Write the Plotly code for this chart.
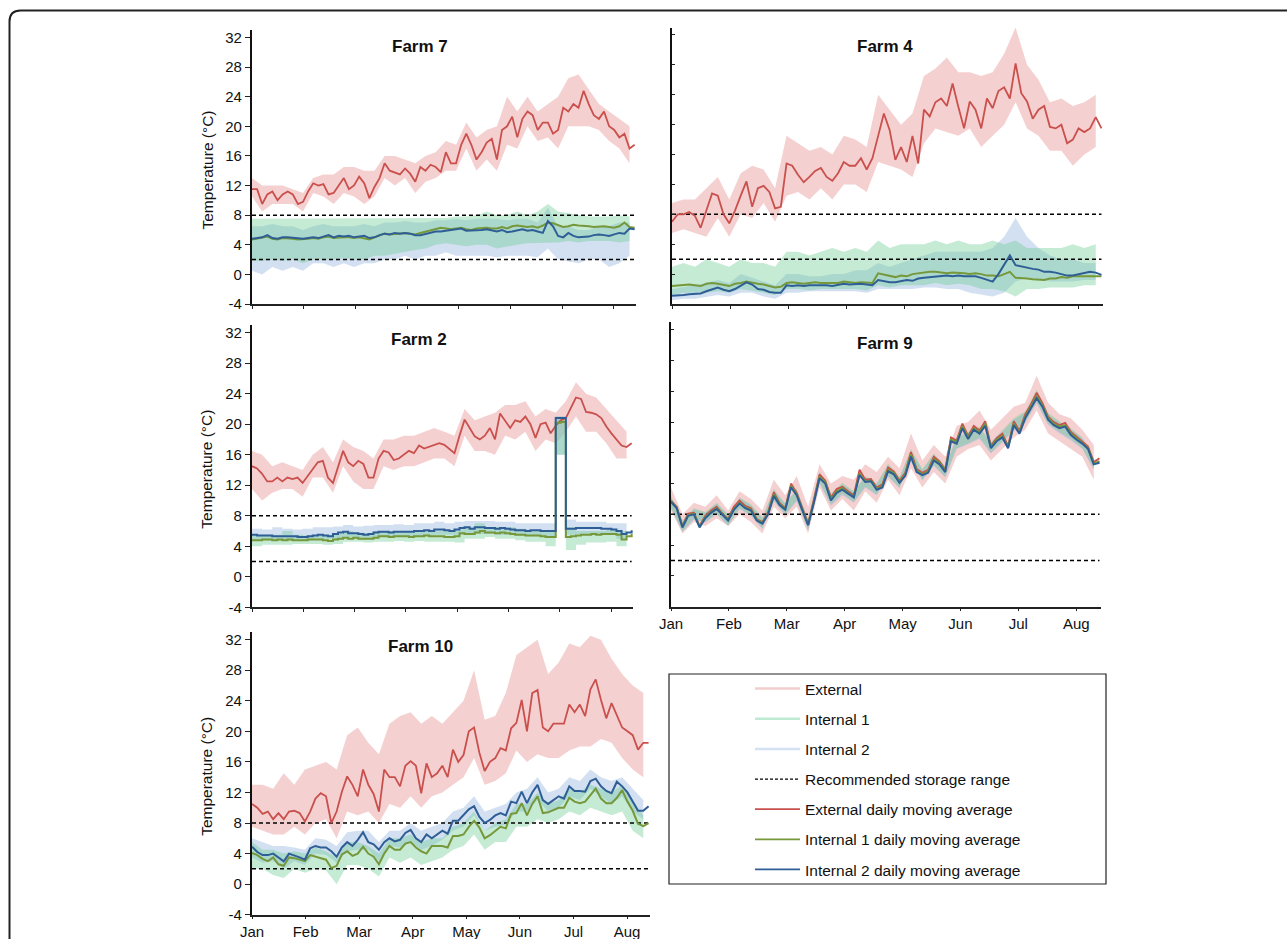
import plotly.graph_objects as go

W, H = 1287, 939
FONT = "Liberation Sans, Arial, Helvetica, sans-serif"

# ---------------- data ----------------
DAYS = list(range(0, 226, 3))        # moving-average sample days (Jan 1 = 0)
BAND_DAYS = list(range(0, 223, 6))   # raw-reading envelope sample days
MONTH_TICKS = [0, 30.4, 60.8, 91.2, 121.6, 152.0, 182.4, 212.8]
MONTH_LABELS = ["Jan", "Feb", "Mar", "Apr", "May", "Jun", "Jul", "Aug"]
Y_TICKS = [-4, 0, 4, 8, 12, 16, 20, 24, 28, 32]
Y_LABELS = ["-4", "0", "4", "8", "12", "16", "20", "24", "28", "32"]
RANGE_X = [0, 225]
RANGE_LOW = 2
RANGE_HIGH = 8

# Farm 7
F7_EXT = [11.5, 11.5, 9.5, 10.8, 11.2, 10.0, 10.8, 11.2, 10.8, 9.5,
          9.8, 11.2, 12.3, 12.0, 12.2, 10.8, 11.0, 12.0, 13.0, 11.5,
          12.0, 13.2, 12.3, 10.3, 11.8, 13.0, 15.0, 14.0, 13.8, 13.5,
          14.3, 13.6, 12.5, 14.5, 14.0, 14.8, 14.5, 13.8, 16.5, 15.0,
          15.0, 17.5, 19.0, 17.5, 15.5, 16.5, 17.8, 18.3, 15.5, 19.5,
          20.0, 21.3, 18.5, 21.0, 22.0, 21.5, 19.5, 20.5, 20.5, 19.0,
          19.5, 22.5, 22.0, 23.0, 22.5, 24.8, 23.0, 21.5, 21.0, 22.0,
          20.0, 19.5, 18.5, 19.0, 17.0, 17.5]
F7_INT1 = [4.7, 4.8, 4.9, 5.1, 4.8, 4.7, 4.9, 4.9, 4.8, 4.7,
           4.7, 4.8, 4.9, 4.8, 5.0, 5.1, 4.9, 5.0, 5.0, 5.0,
           4.9, 5.0, 4.9, 4.7, 5.0, 5.2, 5.5, 5.4, 5.5, 5.5,
           5.6, 5.5, 5.4, 5.6, 5.8, 6.0, 6.1, 6.3, 6.2, 6.1,
           6.2, 6.3, 6.1, 6.0, 6.2, 6.3, 6.3, 6.2, 6.2, 6.4,
           6.2, 6.5, 6.6, 6.5, 6.4, 6.5, 6.3, 6.6, 7.0, 6.9,
           6.6, 6.4, 6.5, 6.7, 6.6, 6.6, 6.5, 6.4, 6.5, 6.5,
           6.4, 6.3, 6.5, 7.0, 6.4, 6.3]
F7_INT2 = [4.8, 4.9, 5.0, 5.3, 4.9, 4.8, 5.0, 5.0, 4.9, 4.8,
           4.8, 4.9, 5.0, 4.9, 5.1, 5.3, 5.0, 5.2, 5.1, 5.2,
           5.0, 5.1, 5.2, 4.9, 5.0, 5.3, 5.5, 5.4, 5.6, 5.5,
           5.6, 5.5, 5.3, 5.3, 5.5, 5.6, 5.8, 5.8, 5.9, 6.0,
           6.0, 6.2, 5.9, 5.9, 6.0, 6.0, 6.1, 6.0, 5.8, 6.0,
           5.7, 5.8, 6.0, 6.1, 5.9, 6.0, 5.8, 5.6, 7.2, 6.5,
           5.2, 5.0, 5.6, 5.2, 5.0, 5.0, 5.1, 5.3, 5.4, 5.3,
           5.2, 5.4, 5.6, 5.5, 6.2, 6.1]
F7_EXT_LO = [10.5, 8.5, 9.5, 9.5, 9.5, 8.5, 11, 10.5, 9.5, 11, 10.5, 9.5, 10.5, 13, 12, 13, 11, 12.5, 13,
             14, 14, 17, 14, 15.5, 14, 17.5, 17, 20, 18, 18.5, 17, 20, 20, 20, 19.5, 18, 17, 15]
F7_EXT_HI = [13, 12, 12, 12, 11.5, 11, 13, 13.5, 13.5, 14.5, 14.5, 14, 14, 16, 16, 15.5, 15, 16, 16.5,
             18, 17.5, 20.5, 18.5, 19.5, 20, 24, 22, 24, 22, 23, 24, 26.5, 27, 25, 23, 22, 21, 20]
F7_INT1_LO = [1.8, 1.8, 2.0, 1.8, 2.0, 1.5, 2.0, 2.0, 2.0, 2.2, 2.0, 2.0, 2.5, 2.5, 2.8, 3.0, 3.3, 3.5, 4.0,
              4.2, 4.0, 3.8, 4.0, 4.0, 3.5, 3.8, 4.0, 4.2, 4.2, 4.3, 4.3, 4.5, 4.3, 4.5, 4.5, 4.5, 4.3, 4.5]
F7_INT1_HI = [7.5, 7.5, 7.5, 7.5, 7.5, 7.5, 7.5, 7.5, 7.5, 7.5, 7.5, 7.5, 7.5, 7.5, 7.5, 7.5, 7.5, 7.6, 7.6,
              7.6, 7.8, 7.8, 8.0, 8.5, 8.0, 8.0, 8.5, 8.0, 8.5, 9.5, 8.5, 8.3, 8.0, 7.8, 7.8, 7.8, 8.0, 7.8]
F7_INT2_LO = [0.5, 0.0, 1.0, 0.5, 1.0, 0.5, 1.5, 1.5, 1.0, 1.5, 1.0, 1.5, 1.5, 2.0, 2.0, 2.5, 2.0, 2.5, 2.5,
              3.0, 2.5, 2.5, 2.5, 2.5, 2.3, 2.5, 2.5, 2.5, 2.3, 3.5, 2.0, 1.8, 1.5, 2.0, 2.0, 1.0, 1.5, 2.5]
F7_INT2_HI = [6.5, 6.5, 6.8, 6.5, 6.5, 6.0, 6.5, 6.8, 6.5, 6.5, 6.5, 6.8, 6.5, 7.0, 7.0, 7.2, 7.0, 7.0, 7.3,
              7.3, 7.5, 7.3, 7.5, 7.5, 7.5, 7.3, 7.5, 7.5, 7.0, 9.0, 6.5, 6.5, 6.0, 6.0, 6.5, 6.5, 7.0, 7.0]

# Farm 4
F4_EXT = [7.0, 8.0, 8.0, 8.3, 7.8, 6.2, 8.5, 10.8, 10.5, 8.0,
          6.8, 8.5, 10.5, 12.4, 9.0, 11.5, 11.8, 11.0, 8.8, 9.0,
          14.8, 14.5, 13.3, 12.3, 13.0, 13.8, 14.2, 13.0, 12.5, 13.5,
          15.0, 14.5, 14.5, 15.5, 14.0, 15.5, 18.5, 21.5, 19.3, 15.3,
          17.0, 15.0, 18.5, 14.8, 22.0, 21.1, 23.0, 23.5, 22.5, 25.5,
          22.4, 19.5, 23.1, 22.0, 19.5, 23.5, 22.2, 24.5, 25.0, 23.5,
          28.2, 24.2, 23.1, 20.8, 22.0, 22.5, 19.7, 19.5, 20.0, 17.5,
          18.0, 19.5, 19.0, 19.5, 21.0, 19.5]
F4_INT1 = [-1.6, -1.5, -1.5, -1.4, -1.5, -1.6, -1.3, -1.2, -1.3, -1.4,
           -1.6, -1.3, -1.2, -1.0, -1.2, -1.3, -1.4, -1.6, -1.8, -1.7,
           -1.2, -1.1, -1.2, -1.3, -1.2, -1.1, -1.2, -1.2, -1.3, -1.2,
           -1.0, -1.1, -1.2, -1.1, -1.2, -1.2, 0.1, -0.1, -0.3, -0.4,
           -0.2, -0.3, 0.0, 0.1, 0.2, 0.3, 0.3, 0.2, 0.1, 0.2,
           0.2, 0.1, 0.0, 0.1, 0.0, -0.2, -0.2, -0.3, 0.0, 0.3,
           -0.5, -0.5, -0.6, -0.7, -0.8, -0.8, -0.6, -0.6, -0.4, -0.5,
           -0.3, -0.3, -0.2, -0.3, -0.2, -0.3]
F4_INT2 = [-2.9, -2.8, -2.8, -2.7, -2.6, -2.6, -2.3, -2.0, -1.8, -2.1,
           -2.3, -2.0, -1.6, -1.1, -1.4, -2.0, -2.1, -2.4, -2.5, -2.5,
           -1.5, -1.6, -1.5, -1.6, -1.5, -1.5, -1.4, -1.5, -1.6, -1.4,
           -1.3, -1.4, -1.3, -1.3, -1.4, -1.5, -0.8, -1.0, -1.1, -1.1,
           -1.0, -0.8, -0.9, -0.6, -0.5, -0.4, -0.3, -0.2, -0.2, -0.3,
           -0.2, -0.3, -0.3, -0.3, -0.5, -0.8, -1.0, 0.0, 1.2, 2.5,
           1.2, 1.0, 0.9, 0.7, 0.6, 0.3, 0.3, 0.2, 0.0, -0.2,
           -0.2, 0.0, 0.2, 0.3, 0.2, -0.1]
F4_EXT_LO = [5.5, 6.0, 5.5, 5.0, 7.5, 5.0, 8.0, 7.5, 9.5, 7.0, 10.5, 11.0, 10.0, 11.5, 10.0, 12.0, 12.0, 11.0, 15.0,
             14.5, 14.0, 13.0, 17.5, 19.5, 19.0, 18.5, 19.5, 17.0, 18.5, 20.0, 23.0, 19.5, 18.5, 16.5, 16.5, 14.5, 16.0, 17.0]
F4_EXT_HI = [9.5, 10.0, 10.0, 11.5, 13.0, 10.0, 13.5, 14.5, 14.0, 11.5, 18.5, 17.5, 16.5, 17.0, 16.0, 18.5, 18.0, 17.0, 24.0,
             22.0, 20.0, 21.5, 26.5, 27.5, 29.0, 27.0, 27.0, 26.5, 27.0, 29.5, 33.0, 28.0, 26.0, 23.0, 23.5, 22.5, 23.0, 24.0]
F4_INT1_LO = [-2.8, -2.5, -2.5, -2.5, -2.3, -2.5, -2.0, -2.3, -2.5, -2.8, -2.0, -2.0, -2.2, -2.0, -2.0, -2.0, -2.0, -2.2, -1.5,
              -1.8, -1.5, -1.5, -1.5, -1.2, -1.5, -1.3, -1.5, -2.0, -2.0, -2.3, -3.0, -2.0, -2.0, -1.8, -1.8, -1.8, -1.5, -1.5]
F4_INT1_HI = [1.0, 1.5, 1.0, 2.0, 1.5, 1.0, 2.0, 1.5, 1.5, 1.0, 3.0, 3.0, 2.5, 3.0, 3.5, 3.0, 3.5, 3.0, 4.5,
              3.5, 4.0, 4.0, 4.0, 4.5, 4.0, 4.5, 4.0, 4.0, 4.5, 4.0, 4.5, 3.5, 3.5, 3.5, 3.5, 4.0, 3.5, 4.0]
F4_INT2_LO = [-3.5, -3.3, -3.3, -3.0, -2.8, -3.0, -2.5, -2.5, -3.0, -3.3, -2.5, -2.5, -2.3, -2.3, -2.3, -2.2, -2.3, -2.5, -2.0,
              -2.0, -2.0, -2.0, -1.8, -1.8, -2.0, -2.0, -2.5, -2.8, -3.0, -2.5, -1.0, -0.5, -0.8, -1.0, -1.0, -1.0, -0.8, -0.8]
F4_INT2_HI = [-2.0, -1.8, -1.5, -1.2, -0.8, -1.2, 0.0, -0.5, -1.0, -1.5, 0.0, 0.0, -0.3, -0.3, 0.0, 0.0, 0.5, 0.5, 1.5,
              1.0, 1.5, 2.0, 2.5, 3.0, 3.0, 3.0, 3.0, 3.0, 3.5, 5.0, 7.5, 5.0, 3.5, 2.5, 2.0, 2.0, 1.5, 1.5]

# Farm 2
F2_EXT = [14.5, 14.2, 13.5, 12.5, 12.5, 13.0, 12.5, 13.0, 12.8, 13.0,
          12.3, 13.2, 14.2, 15.0, 15.2, 13.0, 12.3, 14.5, 16.5, 15.0,
          14.5, 15.2, 14.8, 13.0, 13.0, 15.5, 16.5, 16.3, 15.3, 15.5,
          16.0, 16.5, 16.2, 17.2, 16.8, 17.0, 17.2, 17.5, 17.3, 16.8,
          16.2, 18.5, 20.6, 19.5, 18.4, 18.0, 18.5, 19.5, 18.0, 21.4,
          20.5, 19.5, 20.5, 20.3, 21.0, 20.0, 18.2, 20.0, 20.2, 18.8,
          19.8, 20.5, 20.8, 22.1, 23.5, 23.3, 21.6, 21.5, 21.3, 20.8,
          19.7, 18.8, 18.0, 17.2, 17.0, 17.5]
F2_INT1 = [4.8, 4.8, 4.9, 4.9, 4.8, 4.9, 4.8, 4.9, 4.8, 4.8,
           4.8, 4.9, 4.9, 4.9, 4.8, 4.7, 4.9, 5.0, 5.1, 5.0,
           5.1, 5.0, 5.0, 5.0, 5.1, 5.3, 5.3, 5.2, 5.3, 5.3,
           5.3, 5.2, 5.3, 5.3, 5.4, 5.3, 5.3, 5.3, 5.2, 5.2,
           5.3, 5.7, 5.6, 5.6, 5.8, 6.0, 5.8, 5.8, 5.7, 5.8,
           5.7, 5.6, 5.5, 5.5, 5.4, 5.4, 5.4, 5.3, 5.2, 5.2,
           20.2, 20.3, 5.2, 5.3, 5.4, 5.5, 5.5, 5.6, 5.5, 5.6,
           5.6, 5.6, 5.5, 4.9, 5.3, 5.6]
F2_INT2 = [5.5, 5.4, 5.4, 5.4, 5.3, 5.3, 5.3, 5.3, 5.3, 5.2,
           5.2, 5.3, 5.4, 5.5, 5.4, 5.3, 5.6, 5.8, 5.9, 5.7,
           5.7, 5.6, 5.5, 5.6, 5.8, 5.9, 5.9, 5.8, 5.9, 5.9,
           5.9, 5.9, 6.0, 6.0, 6.1, 6.0, 6.2, 6.2, 6.1, 6.0,
           6.2, 6.4, 6.5, 6.3, 6.5, 6.5, 6.4, 6.4, 6.3, 6.4,
           6.3, 6.2, 6.1, 6.1, 6.0, 6.1, 6.1, 6.0, 6.0, 6.0,
           20.8, 20.8, 6.3, 6.3, 6.4, 6.4, 6.4, 6.4, 6.4, 6.3,
           6.3, 6.2, 6.0, 5.6, 5.8, 6.1]
F2_EXT_LO = [11.5, 10.0, 11.0, 11.5, 11.5, 10.5, 13.0, 13.0, 11.0, 14.5, 12.5, 11.5, 11.5, 14.5, 14.0, 14.5, 14.5, 15.0, 15.5,
             15.5, 14.5, 18.5, 16.5, 16.5, 16.0, 18.5, 18.0, 19.0, 16.5, 18.0, 17.5, 19.0, 21.0, 19.0, 19.0, 17.5, 15.5, 15.5]
F2_EXT_HI = [16.5, 16.0, 14.5, 15.0, 14.5, 14.0, 16.0, 17.0, 15.0, 18.0, 17.0, 16.5, 15.5, 18.0, 18.0, 18.5, 18.5, 19.0, 19.5,
             19.0, 18.5, 22.0, 20.5, 21.0, 21.5, 22.5, 22.5, 23.0, 21.0, 22.0, 21.5, 23.0, 25.5, 24.0, 23.5, 22.0, 20.5, 19.0]
F2_INT1_LO = [4.0, 4.2, 4.2, 4.2, 4.3, 4.3, 4.3, 4.2, 4.3, 4.6, 4.6, 4.5, 4.6, 4.6, 4.7, 4.6, 4.7, 4.6, 4.6,
              4.6, 4.5, 5.0, 5.0, 5.2, 5.0, 5.0, 4.8, 4.6, 4.6, 4.0, 16.0, 3.5, 4.2, 4.5, 4.5, 4.6, 4.0, 4.5]
F2_INT1_HI = [5.5, 5.5, 5.5, 6.0, 5.5, 5.4, 5.4, 5.5, 5.6, 6.0, 5.8, 5.7, 6.0, 6.0, 6.0, 6.0, 6.0, 6.0, 6.0,
              6.0, 6.2, 6.5, 7.0, 6.5, 6.5, 6.5, 6.3, 6.0, 6.0, 6.0, 21.0, 6.5, 6.0, 6.0, 6.0, 6.2, 6.0, 6.0]
F2_INT2_LO = [4.8, 4.8, 4.8, 4.8, 4.8, 4.8, 4.9, 5.0, 5.0, 5.2, 5.1, 5.0, 5.2, 5.3, 5.3, 5.3, 5.3, 5.4, 5.5,
              5.5, 5.5, 5.6, 5.6, 5.6, 5.5, 5.5, 5.4, 5.3, 5.3, 5.2, 16.0, 5.5, 5.6, 5.6, 5.6, 5.5, 5.0, 5.2]
F2_INT2_HI = [6.3, 6.2, 6.5, 6.3, 6.2, 6.3, 6.5, 6.5, 6.6, 6.8, 6.6, 6.7, 6.8, 6.8, 6.9, 6.8, 7.0, 7.0, 7.2,
              7.0, 7.2, 7.3, 7.3, 7.3, 7.2, 7.2, 7.0, 7.0, 7.0, 7.0, 21.0, 7.5, 7.2, 7.2, 7.2, 7.0, 7.0, 7.0]

# Farm 9
F9_EXT = [9.8, 9.0, 6.5, 8.1, 8.2, 6.5, 7.8, 8.5, 9.0, 8.1,
          7.4, 9.0, 9.8, 9.1, 8.8, 7.4, 7.0, 8.3, 10.9, 9.5,
          8.8, 12.0, 10.8, 8.7, 6.8, 9.9, 13.2, 12.4, 10.2, 11.3,
          11.6, 11.0, 10.5, 13.8, 12.5, 12.6, 11.5, 11.9, 14.1, 13.6,
          12.4, 13.4, 16.1, 13.9, 13.4, 13.8, 15.5, 14.9, 13.8, 18.0,
          17.6, 19.8, 18.2, 19.5, 18.9, 20.1, 16.9, 17.9, 18.5, 16.9,
          20.1, 18.9, 21.0, 22.3, 23.8, 22.5, 20.7, 20.0, 19.6, 19.9,
          18.7, 18.1, 17.5, 16.8, 14.8, 15.3]
F9_INT1 = [9.7, 8.9, 6.4, 7.9, 8.1, 6.4, 7.6, 8.3, 8.8, 8.0,
           7.3, 8.7, 9.5, 8.9, 8.6, 7.3, 6.9, 8.1, 10.6, 9.3,
           8.7, 11.7, 10.6, 8.6, 6.7, 9.6, 12.9, 12.2, 10.0, 11.0,
           11.4, 10.8, 10.3, 13.3, 12.3, 12.4, 11.3, 11.7, 13.8, 13.4,
           12.2, 13.2, 15.8, 13.7, 13.2, 13.6, 15.2, 14.7, 13.6, 17.7,
           17.4, 19.5, 18.0, 19.2, 18.7, 19.8, 16.7, 17.7, 18.2, 16.7,
           19.8, 18.7, 20.7, 22.0, 23.4, 22.2, 20.5, 19.8, 19.4, 19.6,
           18.5, 17.9, 17.3, 16.6, 14.6, 14.9]
F9_INT2 = [9.6, 8.8, 6.3, 7.8, 8.0, 6.3, 7.5, 8.2, 8.7, 7.9,
           7.2, 8.6, 9.4, 8.8, 8.5, 7.2, 6.8, 8.0, 10.4, 9.2,
           8.6, 11.5, 10.5, 8.5, 6.6, 9.5, 12.7, 12.0, 9.8, 10.8,
           11.2, 10.7, 10.2, 13.1, 12.2, 12.3, 11.2, 11.5, 13.6, 13.2,
           12.1, 13.0, 15.5, 13.5, 13.1, 13.4, 15.0, 14.5, 13.5, 17.5,
           17.2, 19.2, 17.8, 19.0, 18.5, 19.5, 16.6, 17.5, 18.0, 16.6,
           19.6, 18.5, 20.5, 21.8, 23.1, 22.0, 20.3, 19.6, 19.2, 19.4,
           18.3, 17.7, 17.2, 16.5, 14.5, 14.7]
F9_EXT_LO = [8.5, 5.5, 7.0, 6.5, 7.5, 6.5, 8.0, 7.0, 5.5, 9.0, 7.5, 9.0, 5.5, 11.5, 8.5, 10.0, 8.5, 11.0, 9.5,
             12.5, 10.5, 14.0, 11.5, 13.5, 12.0, 15.5, 16.5, 17.0, 15.0, 16.5, 18.0, 19.0, 21.5, 18.5, 17.5, 16.5, 15.5, 12.5]
F9_EXT_HI = [11.5, 8.0, 9.5, 9.0, 10.5, 8.5, 11.0, 10.0, 8.5, 12.5, 10.5, 13.0, 9.0, 14.5, 12.0, 13.0, 12.5, 14.5, 13.5,
             15.5, 14.0, 18.5, 15.0, 17.0, 15.5, 19.5, 20.0, 21.5, 19.0, 20.5, 22.0, 22.5, 26.0, 22.5, 21.0, 20.5, 19.0, 17.0]
F9_INT1_LO = [8.8, 5.8, 7.4, 7.0, 8.1, 6.6, 8.8, 7.9, 6.2, 9.8, 8.0, 9.8, 6.0, 12.1, 9.3, 10.7, 9.6, 11.6, 10.6,
              13.0, 11.5, 15.0, 12.5, 14.4, 12.9, 16.6, 17.2, 18.0, 16.0, 17.5, 19.0, 20.0, 22.6, 19.8, 18.7, 17.8, 16.6, 13.9]
F9_INT1_HI = [10.4, 7.2, 8.8, 8.3, 9.5, 8.0, 10.2, 9.3, 7.6, 11.3, 9.4, 11.3, 7.4, 13.6, 10.7, 12.1, 11.0, 13.0, 12.0,
              14.6, 12.9, 16.5, 13.9, 15.9, 14.3, 18.1, 18.7, 19.4, 17.4, 18.9, 20.5, 21.4, 24.2, 21.2, 20.1, 19.2, 18.0, 15.3]
F9_INT2_LO = [8.9, 5.7, 7.3, 6.9, 8.0, 6.5, 8.7, 7.8, 6.1, 9.7, 7.9, 9.7, 5.9, 12.0, 9.1, 10.5, 9.5, 11.5, 10.5,
              12.9, 11.4, 14.8, 12.4, 14.3, 12.8, 16.5, 17.1, 17.8, 15.9, 17.3, 18.9, 19.8, 22.4, 19.6, 18.5, 17.6, 16.5, 13.8]
F9_INT2_HI = [10.3, 7.0, 8.7, 8.2, 9.4, 7.9, 10.1, 9.2, 7.5, 11.1, 9.3, 11.2, 7.3, 13.4, 10.5, 11.9, 10.9, 12.9, 11.9,
              14.3, 12.8, 16.2, 13.8, 15.7, 14.2, 17.9, 18.5, 19.2, 17.3, 18.7, 20.3, 21.2, 23.8, 21.0, 19.9, 19.0, 17.9, 15.2]

# Farm 10
F10_EXT = [10.5, 10.0, 9.2, 9.5, 8.5, 9.3, 8.5, 9.5, 9.6, 9.3,
           8.2, 9.5, 11.2, 11.9, 11.5, 8.0, 9.5, 12.1, 14.1, 13.0,
           11.5, 15.0, 13.0, 11.8, 9.5, 15.0, 14.0, 14.0, 12.8, 15.5,
           16.1, 15.5, 11.9, 15.8, 14.0, 14.5, 15.5, 14.0, 17.6, 16.0,
           16.9, 20.0, 20.5, 17.2, 14.8, 16.0, 16.5, 17.8, 17.5, 20.4,
           21.1, 24.1, 20.0, 25.0, 25.4, 20.5, 20.0, 21.0, 21.0, 21.0,
           23.5, 22.5, 23.5, 22.0, 25.5, 26.8, 24.1, 21.7, 23.7, 22.0,
           20.5, 20.0, 19.5, 17.6, 18.5, 18.5]
F10_INT1 = [4.1, 3.8, 3.3, 3.0, 3.5, 2.6, 2.4, 3.5, 3.4, 3.2,
            3.0, 3.8, 3.6, 3.3, 3.2, 2.1, 2.4, 3.9, 4.3, 3.7,
            4.0, 4.9, 4.0, 3.6, 2.6, 4.0, 5.0, 4.5, 4.5, 5.3,
            5.5, 4.8, 4.3, 4.0, 5.0, 5.0, 5.0, 4.8, 6.3, 6.3,
            6.5, 7.5, 8.3, 7.4, 6.0, 6.4, 7.0, 7.5, 7.3, 9.2,
            9.3, 10.6, 9.0, 10.5, 11.5, 9.3, 9.4, 9.7, 10.0, 10.0,
            11.3, 10.8, 10.6, 10.8, 11.6, 12.5, 11.2, 10.6, 10.6, 11.3,
            12.3, 10.8, 9.6, 7.9, 7.6, 8.0]
F10_INT2 = [4.9, 4.2, 3.8, 3.8, 4.0, 3.5, 3.0, 4.0, 3.8, 3.5,
            3.2, 4.7, 5.0, 4.8, 4.8, 4.3, 3.6, 4.8, 5.5, 5.0,
            5.8, 6.8, 5.5, 5.2, 4.5, 5.5, 6.0, 5.6, 5.8, 6.7,
            7.1, 6.0, 5.5, 6.5, 6.0, 6.5, 7.0, 6.6, 8.3, 8.3,
            9.0, 9.8, 10.2, 8.8, 8.0, 8.4, 9.0, 9.3, 9.0, 10.8,
            10.6, 12.1, 10.6, 12.0, 13.0, 11.0, 10.5, 11.0, 11.5, 11.2,
            12.8, 12.2, 12.2, 12.1, 13.5, 13.8, 12.8, 12.2, 11.9, 13.4,
            12.8, 12.0, 10.8, 9.6, 9.6, 10.2]
F10_EXT_LO = [7.5, 7.0, 6.5, 6.5, 7.5, 6.5, 8.0, 8.5, 6.0, 9.5, 9.0, 9.5, 8.0, 10.5, 10.0, 11.5, 10.0, 11.5, 12.0,
              13.0, 14.0, 16.5, 13.0, 13.5, 14.5, 17.5, 16.0, 17.0, 16.5, 16.5, 17.5, 18.0, 18.0, 19.0, 18.5, 16.5, 15.0, 14.0]
F10_EXT_HI = [13.0, 13.0, 12.5, 14.5, 13.0, 15.0, 15.5, 16.0, 15.0, 19.5, 20.5, 18.5, 17.0, 21.0, 22.0, 22.5, 21.0, 22.0, 21.0,
              22.5, 24.0, 28.0, 21.5, 22.0, 25.0, 30.0, 31.0, 32.0, 27.5, 29.0, 31.5, 31.0, 32.5, 32.0, 29.5, 27.5, 26.0, 25.0]
F10_INT1_LO = [2.0, 2.0, 1.2, 0.8, 2.0, 1.5, 2.0, 1.8, 0.0, 2.5, 2.5, 2.0, 1.0, 3.5, 2.8, 3.5, 2.5, 3.0, 3.5,
               4.5, 5.0, 6.5, 4.5, 5.5, 5.5, 7.5, 7.5, 8.5, 8.0, 8.5, 9.5, 9.0, 10.0, 9.5, 9.0, 9.5, 7.0, 6.0]
F10_INT1_HI = [5.5, 4.5, 4.5, 4.0, 4.3, 4.0, 4.8, 4.3, 3.5, 5.5, 5.5, 5.0, 4.0, 6.0, 6.0, 6.5, 5.5, 6.0, 6.0,
               7.5, 8.0, 9.5, 7.0, 8.0, 8.5, 10.5, 10.5, 12.0, 10.5, 11.0, 12.5, 12.0, 13.0, 12.5, 12.0, 13.0, 11.0, 9.0]
F10_INT2_LO = [3.5, 2.8, 3.0, 2.0, 3.0, 2.5, 4.0, 3.8, 2.8, 4.3, 4.5, 4.5, 3.0, 5.0, 4.8, 5.5, 4.5, 5.0, 5.8,
               7.0, 7.5, 9.0, 7.0, 7.5, 7.8, 9.5, 9.5, 11.0, 9.5, 10.0, 11.5, 11.0, 12.5, 11.5, 10.5, 11.5, 9.5, 8.5]
F10_INT2_HI = [6.0, 5.5, 5.0, 5.0, 4.8, 4.5, 6.0, 5.8, 5.0, 6.8, 7.0, 7.0, 5.5, 7.0, 7.0, 8.0, 7.0, 7.5, 8.0,
               9.5, 10.0, 11.5, 9.5, 10.0, 10.5, 12.0, 12.5, 14.0, 12.0, 12.5, 14.0, 13.5, 15.0, 14.0, 13.5, 14.0, 12.5, 11.0]

# ---------------- styles ----------------
EXT_RAW = "rgba(232,150,150,0.45)"
INT1_RAW = "rgba(110,205,150,0.40)"
INT2_RAW = "rgba(150,180,225,0.42)"
EXT_RAW_LEG = "rgb(243,205,205)"
INT1_RAW_LEG = "rgb(190,233,211)"
INT2_RAW_LEG = "rgb(212,225,243)"
EXT_AVG = "#c9504d"
INT1_AVG = "#76983a"
INT2_AVG = "#2f5e96"


def fx(px):
    return px / W


def fy(py):
    return 1 - py / H


PANELS = [
    dict(name="Farm 7", ext=F7_EXT, i1=F7_INT1, i2=F7_INT2,
         bands=[(F7_EXT_LO, F7_EXT_HI, EXT_RAW), (F7_INT2_LO, F7_INT2_HI, INT2_RAW), (F7_INT1_LO, F7_INT1_HI, INT1_RAW)],
         xd=(252, 636), yd=(30, 304), tpos=(420, 46), left=True, xlab=False, ishape="linear"),
    dict(name="Farm 4", ext=F4_EXT, i1=F4_INT1, i2=F4_INT2,
         bands=[(F4_EXT_LO, F4_EXT_HI, EXT_RAW), (F4_INT2_LO, F4_INT2_HI, INT2_RAW), (F4_INT1_LO, F4_INT1_HI, INT1_RAW)],
         xd=(672, 1103), yd=(27.5, 304), tpos=(885, 46), left=False, xlab=False, ishape="linear"),
    dict(name="Farm 2", ext=F2_EXT, i1=F2_INT1, i2=F2_INT2,
         bands=[(F2_EXT_LO, F2_EXT_HI, EXT_RAW), (F2_INT2_LO, F2_INT2_HI, INT2_RAW), (F2_INT1_LO, F2_INT1_HI, INT1_RAW)],
         xd=(252, 633), yd=(325, 607.3), tpos=(419, 340), left=True, xlab=False, ishape="hv"),
    dict(name="Farm 9", ext=F9_EXT, i1=F9_INT1, i2=F9_INT2,
         bands=[(F9_EXT_LO, F9_EXT_HI, EXT_RAW), (F9_INT2_LO, F9_INT2_HI, INT2_RAW), (F9_INT1_LO, F9_INT1_HI, INT1_RAW)],
         xd=(671, 1101), yd=(322, 606.7), tpos=(885, 343), left=False, xlab=True, ishape="linear"),
    dict(name="Farm 10", ext=F10_EXT, i1=F10_INT1, i2=F10_INT2,
         bands=[(F10_EXT_LO, F10_EXT_HI, EXT_RAW), (F10_INT2_LO, F10_INT2_HI, INT2_RAW), (F10_INT1_LO, F10_INT1_HI, INT1_RAW)],
         xd=(252, 650), yd=(632, 914.7), tpos=(420, 646), left=True, xlab=True, ishape="linear"),
]

fig = go.Figure()
annotations = []
layout_axes = {}

for i, p in enumerate(PANELS, start=1):
    xa = "x" if i == 1 else f"x{i}"
    ya = "y" if i == 1 else f"y{i}"
    bshape = "hv" if p["ishape"] == "hv" else "linear"
    for lo, hi, col in p["bands"]:
        shp = bshape if col != EXT_RAW else "linear"
        fig.add_trace(go.Scatter(x=BAND_DAYS, y=lo, mode="lines", line=dict(width=0, shape=shp),
                                 showlegend=False, hoverinfo="skip", xaxis=xa, yaxis=ya))
        fig.add_trace(go.Scatter(x=BAND_DAYS, y=hi, mode="lines", line=dict(width=0, shape=shp),
                                 fill="tonexty", fillcolor=col, showlegend=False, hoverinfo="skip",
                                 xaxis=xa, yaxis=ya))
    for level in (RANGE_HIGH, RANGE_LOW):
        fig.add_trace(go.Scatter(x=RANGE_X, y=[level, level], mode="lines",
                                 line=dict(color="black", width=1.5, dash="4px,3px"),
                                 showlegend=False, hoverinfo="skip", xaxis=xa, yaxis=ya))
    fig.add_trace(go.Scatter(x=DAYS, y=p["ext"], mode="lines", line=dict(color=EXT_AVG, width=1.8),
                             showlegend=False, hoverinfo="skip", xaxis=xa, yaxis=ya))
    fig.add_trace(go.Scatter(x=DAYS, y=p["i1"], mode="lines",
                             line=dict(color=INT1_AVG, width=2, shape=p["ishape"]),
                             showlegend=False, hoverinfo="skip", xaxis=xa, yaxis=ya))
    fig.add_trace(go.Scatter(x=DAYS, y=p["i2"], mode="lines",
                             line=dict(color=INT2_AVG, width=2, shape=p["ishape"]),
                             showlegend=False, hoverinfo="skip", xaxis=xa, yaxis=ya))

    xkey = "xaxis" if i == 1 else f"xaxis{i}"
    ykey = "yaxis" if i == 1 else f"yaxis{i}"
    layout_axes[xkey] = dict(
        domain=[fx(p["xd"][0]), fx(p["xd"][1])], anchor=ya, range=[0, 225.8],
        tickmode="array", tickvals=MONTH_TICKS, ticktext=MONTH_LABELS,
        showticklabels=p["xlab"], ticks="outside", ticklen=3, tickwidth=1.2, tickcolor="#222",
        showline=True, linecolor="#222", linewidth=1.5, showgrid=False, zeroline=False,
        automargin=False,
        tickfont=dict(family=FONT, size=15, color="#111"), fixedrange=True,
    )
    layout_axes[ykey] = dict(
        domain=[fy(p["yd"][1]), fy(p["yd"][0])], anchor=xa, range=[-4, 33],
        tickmode="array", tickvals=Y_TICKS, ticktext=Y_LABELS, showticklabels=p["left"],
        ticks="outside" if p["left"] else "inside", ticklen=5 if p["left"] else 3,
        tickwidth=1.2, tickcolor="#222",
        showline=True, linecolor="#111", linewidth=2.2, showgrid=False, zeroline=False,
        automargin=False,
        tickfont=dict(family=FONT, size=15, color="#111"), fixedrange=True,
    )
    annotations.append(dict(text=f"<b>{p['name']}</b>", x=fx(p["tpos"][0]), y=fy(p["tpos"][1]),
                            xref="paper", yref="paper", showarrow=False, xanchor="center", yanchor="middle",
                            font=dict(family=FONT, size=17, color="#111")))
    if p["left"]:
        annotations.append(dict(text="Temperature (°C)", textangle=-90, x=fx(207),
                                y=fy((p["yd"][0] + 7 + p["yd"][1]) / 2),
                                xref="paper", yref="paper", showarrow=False, xanchor="center", yanchor="middle",
                                font=dict(family=FONT, size=15.5, color="#111")))

# legend-only entries
LEGEND = [
    ("External", dict(color=EXT_RAW_LEG, width=2.5)),
    ("Internal 1", dict(color=INT1_RAW_LEG, width=2.5)),
    ("Internal 2", dict(color=INT2_RAW_LEG, width=2.5)),
    ("Recommended storage range", dict(color="black", width=1.2, dash="3px,2px")),
    ("External daily moving average", dict(color=EXT_AVG, width=1.8)),
    ("Internal 1 daily moving average", dict(color=INT1_AVG, width=1.8)),
    ("Internal 2 daily moving average", dict(color=INT2_AVG, width=1.8)),
]
for k, (label, ln) in enumerate(LEGEND):
    fig.add_trace(go.Scatter(x=[None], y=[None], mode="lines", line=ln, name=label,
                             legendgroup=f"g{k}", showlegend=True, hoverinfo="skip"))

shapes = [
    dict(type="rect", xref="paper", yref="paper", x0=fx(669), x1=fx(1106), y0=fy(884), y1=fy(674),
         line=dict(color="#222", width=1.2), fillcolor="rgba(0,0,0,0)", layer="below"),
]
x0 = fx(9.5)
yt = fy(10.5)
rx = 11 / W
ry = 11 / H
yb = 0.0
shapes.append(dict(type="path", xref="paper", yref="paper",
                   path=f"M {x0},{yb} L {x0},{yt - ry} Q {x0},{yt} {x0 + rx},{yt} L 1,{yt}",
                   line=dict(color="#222", width=2)))

fig.update_layout(
    width=W, height=H, margin=dict(l=0, r=0, t=0, b=0, pad=0, autoexpand=False),
    paper_bgcolor="white", plot_bgcolor="white",
    font=dict(family=FONT, color="#111"),
    hovermode=False,
    showlegend=True,
    legend=dict(x=fx(750), y=fy(672), xanchor="left", yanchor="top",
                bgcolor="rgba(0,0,0,0)", borderwidth=0,
                font=dict(family=FONT, size=15.5, color="#111"),
                tracegroupgap=7, itemwidth=45, traceorder="grouped"),
    annotations=annotations,
    shapes=shapes,
    **layout_axes,
)

fig.write_html(
    "out.html",
    config={"displayModeBar": False, "responsive": False},
    post_script="document.body.style.margin='0';document.body.style.padding='0';document.body.style.overflow='hidden';",
)
